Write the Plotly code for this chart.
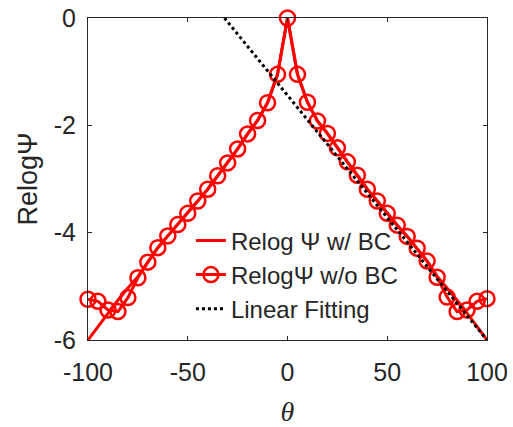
import plotly.graph_objects as go

# Angle grid (degrees)
theta = [-100, -95, -90, -85, -80, -75, -70, -65, -60, -55, -50, -45, -40, -35, -30,
         -25, -20, -15, -10, -5, 0, 5, 10, 15, 20, 25, 30, 35, 40, 45, 50, 55, 60,
         65, 70, 75, 80, 85, 90, 95, 100]

# Relog Psi without boundary correction
relog_wo_bc = [-5.24, -5.28, -5.44, -5.47, -5.21, -4.84, -4.55, -4.28, -4.06, -3.85,
               -3.64, -3.41, -3.19, -2.94, -2.70, -2.44, -2.16, -1.91, -1.58, -1.05,
               0.00, -1.05, -1.57, -1.92, -2.15, -2.42, -2.68, -2.93, -3.19, -3.41,
               -3.64, -3.86, -4.07, -4.29, -4.53, -4.83, -5.20, -5.47, -5.44, -5.28,
               -5.23]

# Relog Psi with boundary correction
relog_w_bc = [-6.00, -5.75, -5.50, -5.26, -5.03, -4.82, -4.55, -4.28, -4.06, -3.85,
              -3.64, -3.41, -3.19, -2.94, -2.70, -2.44, -2.16, -1.91, -1.58, -1.05,
              0.00, -1.05, -1.57, -1.92, -2.15, -2.42, -2.68, -2.93, -3.19, -3.41,
              -3.64, -3.86, -4.07, -4.29, -4.53, -4.81, -5.03, -5.26, -5.50, -5.75,
              -6.00]

# Linear fit of the right branch (end points)
fit_theta = [-31.6, 100]
fit_value = [0.0, -6.0]

x_ticks = [-100, -50, 0, 50, 100]
y_ticks = [-6, -4, -2, 0]

RED = "#ff0000"
AXIS = "#262626"
FONT = "Liberation Sans, Arial, sans-serif"

fig = go.Figure()
fig.add_trace(go.Scatter(
    x=theta, y=relog_w_bc, mode="lines", name="Relog \u03a8 w/ BC",
    line=dict(color=RED, width=3), cliponaxis=False))
fig.add_trace(go.Scatter(
    x=theta, y=relog_wo_bc, mode="lines+markers", name="Relog\u03a8 w/o BC",
    line=dict(color=RED, width=3),
    marker=dict(symbol="circle-open", size=15, color=RED, line=dict(width=2.5, color=RED)),
    cliponaxis=False))
fig.add_trace(go.Scatter(
    x=fit_theta, y=fit_value, mode="lines", name="Linear Fitting",
    line=dict(color="black", width=3, dash="dot"), cliponaxis=False))

fig.update_layout(
    width=513, height=427,
    margin=dict(l=88, r=26, t=18, b=87, autoexpand=False),
    paper_bgcolor="white", plot_bgcolor="white",
    font=dict(family=FONT, size=25, color=AXIS),
    showlegend=True,
    legend=dict(
        x=0.258, y=0.378, xanchor="left", yanchor="top",
        bgcolor="rgba(0,0,0,0)", font=dict(size=24, color=AXIS),
        tracegroupgap=0, itemwidth=30),
)
fig.update_xaxes(
    range=[-100, 100], tickvals=x_ticks, ticktext=[str(v) for v in x_ticks],
    showgrid=False, zeroline=False, showline=True, linecolor=AXIS, linewidth=1.2,
    mirror="ticks", ticks="inside", ticklen=4, tickcolor=AXIS,
    tickfont=dict(size=25, color=AXIS), ticklabelstandoff=10,
    title=dict(text="<i>\u03b8</i>", font=dict(family="Liberation Serif, Times New Roman, serif", size=28, color=AXIS), standoff=16),
)
fig.update_yaxes(
    range=[-6, 0], tickvals=y_ticks, ticktext=[str(v) for v in y_ticks],
    showgrid=False, zeroline=False, showline=True, linecolor=AXIS, linewidth=1.2,
    mirror="ticks", ticks="inside", ticklen=4, tickcolor=AXIS,
    tickfont=dict(size=25, color=AXIS), ticklabelstandoff=6,
    title=dict(text="Relog\u03a8", font=dict(size=27, color=AXIS), standoff=8),
)

fig.write_html("out.html")
